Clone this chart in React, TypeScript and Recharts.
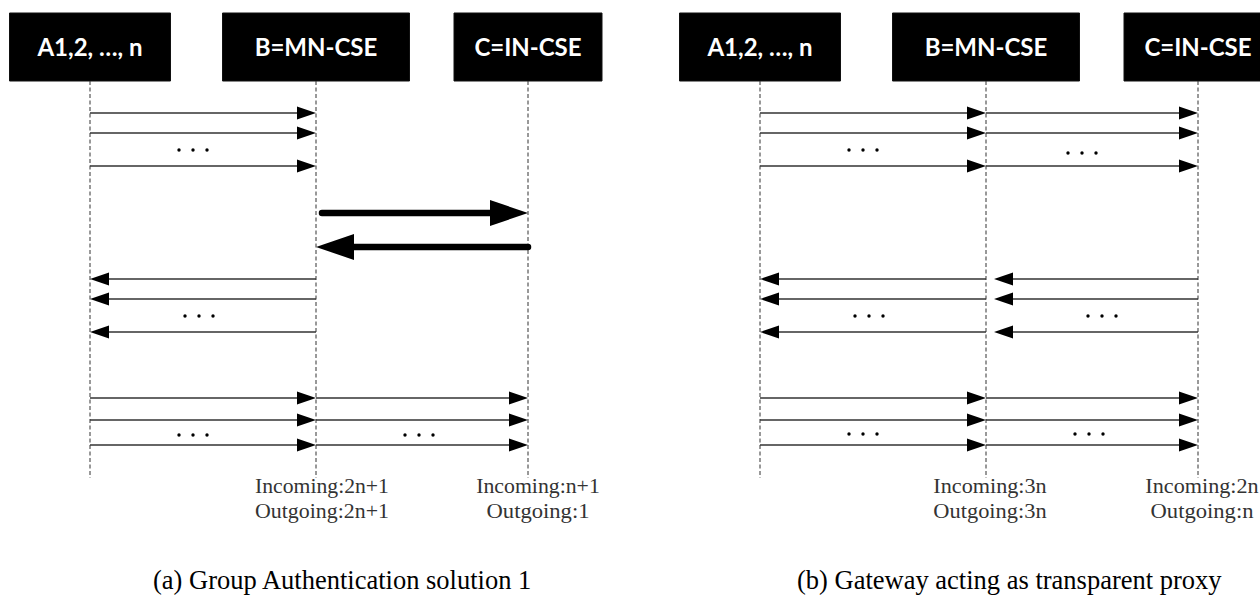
import { ComposedChart, ReferenceArea, ReferenceLine, Scatter, XAxis, YAxis } from "recharts";

const W = 1260;
const H = 597;

// participants and their lane positions (x axis) in the two panels
const participants = ["A1,2, …, n", "B=MN-CSE", "C=IN-CSE"];
const lanesA = [90, 316, 528];
const lanesB = [760, 986, 1198];
const boxHalf = [80.5, 93.5, 74];

// time axis (y, downwards)
const headerTop = 13;
const headerBottom = 81;
const lifelineEnd = 478;
const requestTimes = [113, 133, 166];
const authTimes = [213, 247];
const responseTimes = [279, 299, 332];
const forwardTimes = [398, 420, 445];

type Msg = { from: number; to: number; t: number; thick?: boolean };

const messagesA: Msg[] = [
  ...requestTimes.map((t) => ({ from: 90, to: 316, t })),
  { from: 322, to: 528, t: authTimes[0], thick: true },
  { from: 528, to: 316, t: authTimes[1], thick: true },
  ...responseTimes.map((t) => ({ from: 316, to: 90, t })),
  ...forwardTimes.map((t) => ({ from: 90, to: 316, t })),
  ...forwardTimes.map((t) => ({ from: 316, to: 528, t })),
];

const messagesB: Msg[] = [
  ...requestTimes.map((t) => ({ from: 760, to: 986, t })),
  ...requestTimes.map((t) => ({ from: 986, to: 1198, t })),
  ...responseTimes.map((t) => ({ from: 1198, to: 994, t })),
  ...responseTimes.map((t) => ({ from: 986, to: 760, t })),
  ...forwardTimes.map((t) => ({ from: 760, to: 986, t })),
  ...forwardTimes.map((t) => ({ from: 986, to: 1198, t })),
];

const ellipses = [
  { x: 193, y: 150 },
  { x: 199, y: 316 },
  { x: 193, y: 435 },
  { x: 419, y: 435 },
  { x: 863, y: 150 },
  { x: 1082, y: 153 },
  { x: 869, y: 316 },
  { x: 1102, y: 316 },
  { x: 863, y: 434 },
  { x: 1089, y: 434 },
];

const counts = [
  { x: 322, y: 493, text: "Incoming:2n+1" },
  { x: 322, y: 518, text: "Outgoing:2n+1" },
  { x: 538, y: 493, text: "Incoming:n+1" },
  { x: 538, y: 518, text: "Outgoing:1" },
  { x: 990, y: 493, text: "Incoming:3n" },
  { x: 990, y: 518, text: "Outgoing:3n" },
  { x: 1202, y: 493, text: "Incoming:2n" },
  { x: 1202, y: 518, text: "Outgoing:n" },
];

const captions = [
  { x: 153, y: 589, text: "(a) Group Authentication solution 1" },
  { x: 797, y: 589, text: "(b) Gateway acting as transparent proxy" },
];

function arrowLine(thick?: boolean) {
  return (p: any) => {
    const [a, b] = p.points;
    const dir = Math.sign(b.x - a.x);
    const len = thick ? 38 : 19;
    const half = thick ? 13 : 6.5;
    const neck = b.x - dir * len;
    return (
      <g>
        <line
          x1={a.x}
          y1={a.y}
          x2={neck + dir}
          y2={b.y}
          stroke={thick ? "#000" : "#333"}
          strokeWidth={thick ? 6.5 : 1.3}
          strokeLinecap={thick ? "round" : "butt"}
        />
        <polygon points={`${b.x},${b.y} ${neck},${b.y - half} ${neck},${b.y + half}`} fill="#000" />
      </g>
    );
  };
}

const Nothing = () => <g />;

const EllipsisShape = (p: any) => (
  <g fill="#000">
    {[-14, 0, 14].map((d) => (
      <circle key={d} cx={p.cx + d} cy={p.cy} r={1.7} />
    ))}
  </g>
);

// the source uses a half-width CJK serif, so stretch a serif face to monospace widths
const CountShape = (p: any) => (
  <text
    x={p.cx}
    y={p.cy}
    textAnchor="middle"
    fontFamily="Liberation Serif, serif"
    fontSize={20}
    fill="#333"
    textLength={p.payload.text.length * 10.3}
    lengthAdjust="spacingAndGlyphs"
  >
    {p.payload.text}
  </text>
);

const CaptionShape = (p: any) => (
  <text x={p.cx} y={p.cy} fontFamily="Liberation Serif, serif" fontSize={26.5} fill="#000">
    {p.payload.text}
  </text>
);

export default function App() {
  const allLanes = [lanesA, lanesB];
  return (
    <div style={{ width: W, height: H }}>
      <style>{"body{margin:0}"}</style>
      <ComposedChart width={W} height={H} margin={{ top: 0, right: 0, bottom: 0, left: 0 }}>
        <XAxis type="number" dataKey="x" domain={[0, W]} allowDataOverflow hide />
        <YAxis type="number" dataKey="y" domain={[0, H]} allowDataOverflow reversed hide />

        {allLanes.flatMap((lanes, pi) =>
          lanes.map((lx, i) => (
            <ReferenceLine
              key={`life-${pi}-${i}`}
              segment={[
                { x: lx, y: headerBottom },
                { x: lx, y: lifelineEnd },
              ]}
              stroke="#333"
              strokeWidth={1}
              strokeDasharray="4 2.5"
              ifOverflow="visible"
            />
          ))
        )}

        {allLanes.flatMap((lanes, pi) =>
          lanes.map((lx, i) => (
            <ReferenceArea
              key={`box-${pi}-${i}`}
              x1={lx - boxHalf[i]}
              x2={lx + boxHalf[i]}
              y1={headerTop}
              y2={headerBottom}
              fill="#000"
              fillOpacity={1}
              stroke="#111"
              ifOverflow="visible"
              label={{
                value: participants[i],
                position: "center",
                fill: "#fff",
                fontSize: 24,
                fontWeight: 700,
                fontFamily: "Lato, sans-serif",
              }}
            />
          ))
        )}

        {[...messagesA, ...messagesB].map((m, i) => (
          <Scatter
            key={`msg-${i}`}
            data={[
              { x: m.from, y: m.t },
              { x: m.to, y: m.t },
            ]}
            line={arrowLine(m.thick)}
            shape={<Nothing />}
            isAnimationActive={false}
          />
        ))}

        <Scatter data={ellipses} shape={EllipsisShape} isAnimationActive={false} />
        <Scatter data={counts} shape={CountShape} isAnimationActive={false} />
        <Scatter data={captions} shape={CaptionShape} isAnimationActive={false} />
      </ComposedChart>
    </div>
  );
}
